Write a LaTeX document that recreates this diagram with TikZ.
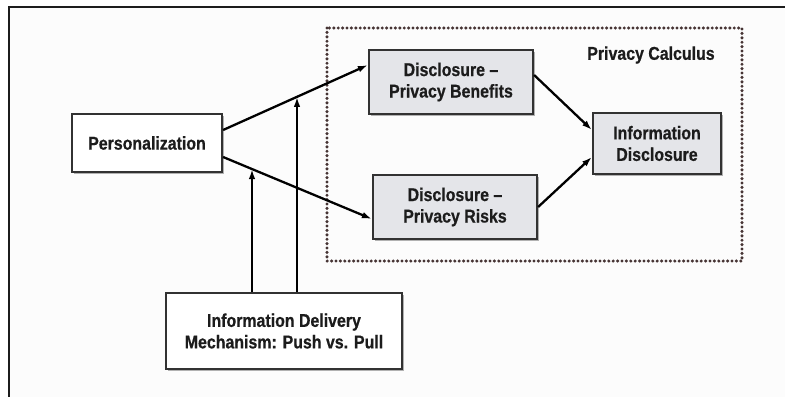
\documentclass[tikz,border=0pt]{standalone}
\usepackage{fontspec}
\setmainfont{Liberation Sans}[FakeStretch=0.86, FakeBold=0.6]
\usetikzlibrary{arrows.meta,shadows,intersections,positioning}
\definecolor{ink}{RGB}{28,28,28}
\definecolor{edge}{RGB}{50,50,50}
\definecolor{boxgray}{RGB}{228,229,233}
\definecolor{dotcol}{RGB}{70,52,52}
\definecolor{page}{RGB}{252,252,252}
\tikzset{
  labelfont/.style={font=\fontsize{18.5}{21.5}\selectfont\bfseries, text=ink, align=center},
  basebox/.style={draw=edge, line width=2.2pt, labelfont, inner sep=0pt,
    drop shadow={shadow xshift=2.4pt, shadow yshift=-2.4pt, fill=black!50, opacity=0.6}},
  whitebox/.style={basebox, fill=white},
  graybox/.style={basebox, fill=boxgray},
  link/.style={draw=black, line width=2.3pt, -{Latex[length=10pt,width=6.5pt]}},
  frameline/.style={draw=ink, line width=1.8pt},
  calcframe/.style={draw=dotcol, line width=3.4pt, line cap=round, dash pattern=on 0pt off 4.4pt}
}
\begin{document}
\begin{tikzpicture}[x=1pt, y=-1pt]
  \useasboundingbox (0,0) rectangle (785,397);
  \fill[page] (9,7) rectangle (785,397);
  % open page frame along the top and left edges
  \draw[frameline] (785,7) -- (9,7) -- (9,397);

  % privacy calculus region
  \draw[calcframe] (327,28) rectangle (742,261);
  \node[labelfont] (calc) at (651,55) {Privacy Calculus};

  % constructs
  \node[whitebox, minimum width=150pt, minimum height=58pt] (pers) at (147,143) {Personalization};
  \node[graybox, minimum width=164pt, minimum height=64pt] (ben) at (451,82) {Disclosure --\\Privacy Benefits};
  \node[graybox, minimum width=164pt, minimum height=64pt] (risk) at (455,207) {Disclosure --\\Privacy Risks};
  \node[graybox, minimum width=128pt, minimum height=61pt] (info) at (657,143.5) {Information\\Disclosure};
  \node[whitebox, minimum width=236pt, minimum height=76pt] (deliv) at (284,331) {Information Delivery\\Mechanism: Push vs. Pull};

  % main paths
  \draw[link, name path=up] ([yshift=13pt]pers.east) -- ([yshift=17pt]ben.west);
  \draw[link, name path=low] ([yshift=-14pt]pers.east) -- ([yshift=-12pt]risk.west);
  \draw[link] ([yshift=7pt]ben.east) -- ([yshift=13.5pt]info.west);
  \draw[link] (risk.east) -- ([yshift=-13.5pt]info.west);

  % moderating effects of the delivery mechanism
  \path[name path=v1] ([xshift=-32pt]deliv.north) -- ++(0pt,250pt);
  \path[name path=v2] ([xshift=13pt]deliv.north) -- ++(0pt,250pt);
  \draw[link, name intersections={of=v1 and low, by=m1}] ([xshift=-32pt]deliv.north) -- (m1);
  \draw[link, name intersections={of=v2 and up, by=m2}] ([xshift=13pt]deliv.north) -- (m2);
\end{tikzpicture}
\end{document}
